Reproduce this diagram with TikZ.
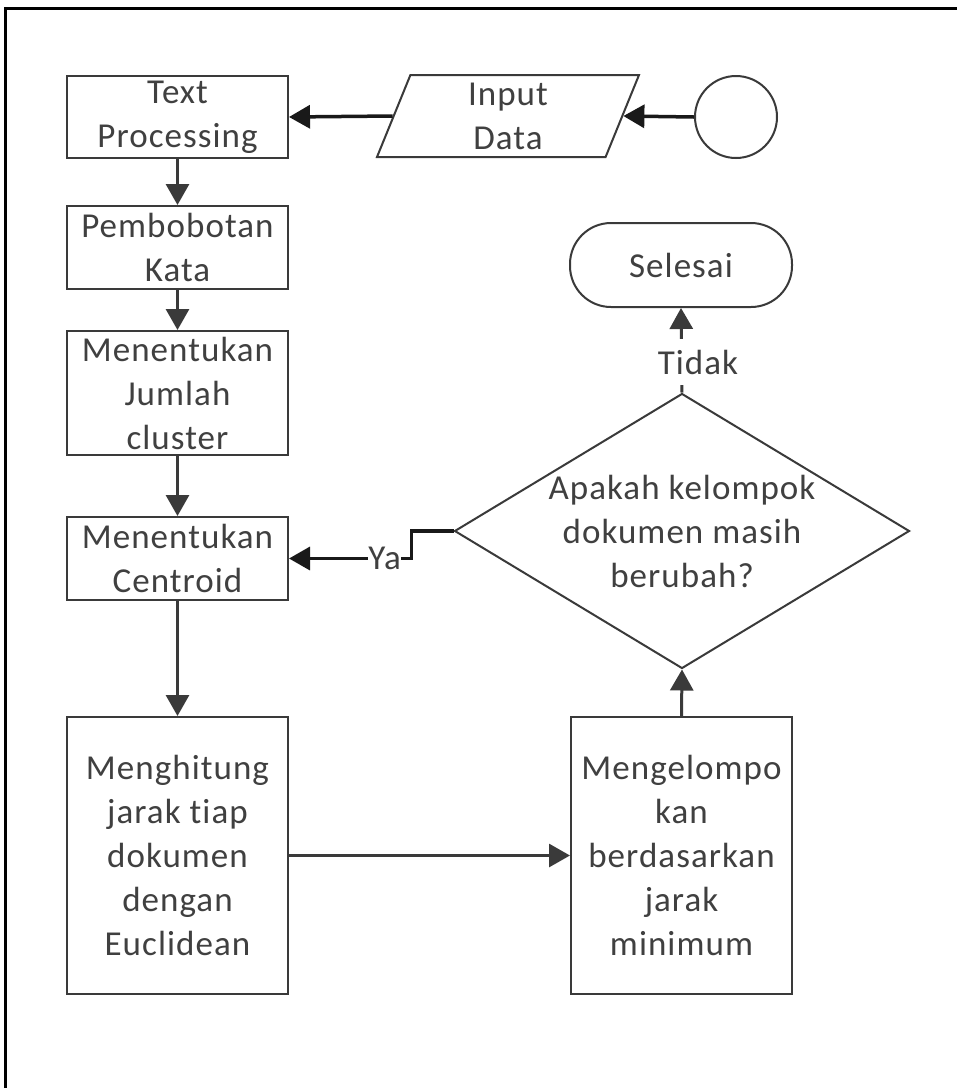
\documentclass[tikz,border=0pt]{standalone}
\usepackage{fontspec}
\setmainfont{Carlito}[Ligatures=NoCommon, LetterSpace=3]
\usetikzlibrary{arrows.meta,shapes.geometric}
\definecolor{ln}{HTML}{3A3A3A}
\definecolor{tx}{HTML}{404040}
\begin{document}
\begin{tikzpicture}[x=1pt,y=-1pt,
  base/.style={draw=ln, line width=2pt, fill=white, text=tx, font=\fontsize{35}{44}\selectfont, align=center, inner sep=0pt},
  box/.style={base, shape=rectangle, minimum width=221pt},
  lbl/.style={text=tx, font=\fontsize{35}{44}\selectfont, fill=white, inner sep=0pt},
  arr/.style={draw=ln, line width=3pt, -{Triangle[length=21pt,width=23pt]}},
  arrk/.style={draw=black!90, line width=3.5pt, -{Triangle[length=21pt,width=23pt]}}
]
\useasboundingbox (0,0) rectangle (957,1088);
\fill[white] (0,0) rectangle (957,1088);
\draw[line width=3pt, black] (5,1100) -- (5,8) -- (970,8);

\node[box, minimum height=82pt] (tp) at (177.5,117) {Text\\Processing};
\node[base, shape=trapezium, trapezium left angle=63.4, trapezium right angle=116.6,
      trapezium stretches body, minimum width=262pt, minimum height=82pt] (inp) at (508,116) {Input\\Data};
\node[base, shape=circle, minimum size=82pt] (st) at (736,117) {};

\node[box, minimum height=83pt] (pk) at (177.5,247.5) {Pembobotan\\Kata};
\node[box, minimum height=124pt] (jc) at (177.5,393) {Menentukan\\Jumlah\\cluster};
\node[box, minimum height=83pt] (ce) at (177.5,558.5) {Menentukan\\Centroid};
\node[box, minimum height=277pt] (mh) at (177.5,855.5) {Menghitung\\jarak tiap\\dokumen\\dengan\\Euclidean};
\node[box, minimum height=277pt] (mk) at (681.5,855.5) {Mengelompo\\kan\\berdasarkan\\jarak\\minimum};

\node[base, shape=diamond, minimum width=455pt, minimum height=275pt,
      label={[text=tx, font=\fontsize{35}{44}\selectfont, align=center]center:Apakah kelompok\\dokumen masih\\berubah?}] (dec) at (682,531) {};
\node[base, shape=rectangle, rounded corners=41pt, minimum width=222pt, minimum height=84pt] (sel) at (681,265) {Selesai};

\draw[arrk] (st.west) -- (inp.east);
\draw[arrk] (inp.west) -- (tp.east);
\draw[arr] (tp.south) -- (pk.north);
\draw[arr] (pk.south) -- (jc.north);
\draw[arr] (jc.south) -- (ce.north);
\draw[arr] (ce.south) -- (mh.north);
\draw[arr] (mh.east) -- (mk.west);
\draw[arr] (mk.north) -- (dec.south);
\draw[arr] (dec.north) -- (sel.south);
\node[lbl, minimum height=46pt, minimum width=84pt] (tidak) at (698,362) {Tidak};
\draw[arrk] (dec.west) -- ++(-42,0) |- node[lbl, pos=0.61] (ya) {Ya} (ce.east);
\end{tikzpicture}
\end{document}
